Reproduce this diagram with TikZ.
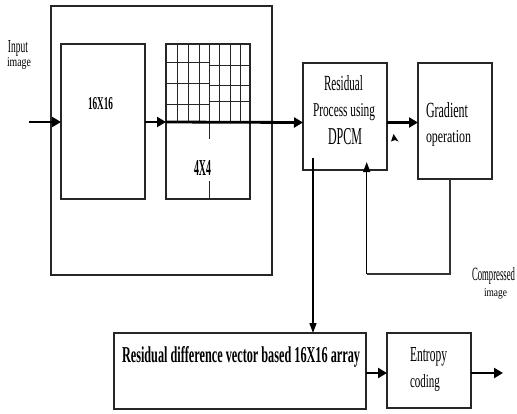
\documentclass[tikz,border=0pt]{standalone}
\usepackage{fontspec}
\setmainfont{Liberation Serif}
\usetikzlibrary{arrows.meta}
\newcommand{\fitxt}[3]{\resizebox{#1pt}{#2pt}{#3}}
\begin{document}
\begin{tikzpicture}[x=1pt,y=-1pt,
  box/.style={draw=black!85,line width=1.1pt},
  gridln/.style={draw=black!85,line width=1pt},
  lbl/.style={anchor=base west,inner sep=0pt,outer sep=0pt},
  thickarr/.style={line width=2.8pt,-{Triangle[length=9pt,width=10pt]}},
  thinarr/.style={line width=1.4pt,-{Triangle[length=10pt,width=7pt]}},
  thinln/.style={line width=1.1pt,draw=black!80}]
\useasboundingbox (0,0) rectangle (517,413);
\fill[white] (0,0) rectangle (517,413);
% outer box
\draw[box] (51,6) rectangle (272,275);
% 16x16 block
\draw[box] (61,44) rectangle (145,199);
\coordinate (b16w) at (61,122);
\coordinate (b16e) at (145,122);
% grid block
\draw[box] (166,44) rectangle (250,199);
\coordinate (gw) at (166,122);
\foreach \x in {177.3,188.3,199,209,219.3,230,240} \draw[gridln] (\x,44) -- (\x,122);
\foreach \y in {62.7,83.3,104} \draw[gridln] (166,\y) -- (209,\y);
\foreach \y in {65.7,85,101} \draw[gridln] (209,\y) -- (250,\y);
\draw[gridln] (209,122) -- (209,139);
\draw[gridln] (209,181) -- (209,199);
% residual / gradient
\draw[box] (303,63) rectangle (387,170);
\draw[box] (418,63) rectangle (492,179);
\coordinate (resw) at (303,122.5);
\coordinate (rese) at (387,122.5);
\coordinate (gradw) at (418,122.5);
% bottom boxes
\draw[box] (114,333) rectangle (366,409);
\draw[box] (387,333) rectangle (471,408);
\coordinate (rdve) at (366,373);
\coordinate (entw) at (387,373);
\coordinate (ente) at (471,373);
\coordinate (outp) at (503,373);
\coordinate (inp) at (29,122);
% arrows
\draw[thickarr] (inp) -- (b16w);
\draw[thickarr] (b16e) -- (gw);
\draw[thickarr] (gw) -- (resw);
\draw[thickarr] (rese) -- (gradw);
\draw[thickarr] (rdve) -- (entw);
\draw[thickarr] (ente) -- (outp);
% down line
\coordinate (dstart) at (313,158);
\coordinate (dend) at (313,333);
\draw[thinarr] (dstart) -- (dend);
% feedback
\coordinate (gbot) at (450,179);
\coordinate (fbl) at (366.7,274);
\coordinate (fbtip) at (366.7,162);
\draw[thinln] (gbot) |- (fbl);
\draw[thinarr] (fbl) -- (fbtip);
% stray arrowhead
\fill (391,141.5) -- (393.5,134) -- (398.5,141.5) -- (395,140) -- cycle;
% labels
\node[lbl] (in1) at (8,52) {\fitxt{20}{12}{Input}};
\node[lbl] (in2) at (7,66) {\fitxt{24}{9}{image}};
\node[lbl] (t16) at (88,109) {\fitxt{25}{12}{\bfseries 16X16}};
\node[lbl] (t4) at (194,175) {\fitxt{17}{15}{\bfseries 4X4}};
\node[lbl] (r1) at (324,90) {\fitxt{39}{15}{Residual}};
\node[lbl] (r2) at (313,116) {\fitxt{62}{13}{Process using}};
\node[lbl] (r3) at (328,144) {\fitxt{34}{16}{DPCM}};
\node[lbl] (g1) at (426,117) {\fitxt{42}{15}{Gradient}};
\node[lbl] (g2) at (426,142) {\fitxt{45}{12}{operation}};
\node[lbl] (bt) at (122,362) {\fitxt{238}{16}{\bfseries Residual difference vector based 16X16 array}};
\node[lbl] (e1) at (410,361) {\fitxt{37}{14}{Entropy}};
\node[lbl] (e2) at (410,387) {\fitxt{30}{13}{coding}};
\node[lbl] (c1) at (472,280) {\fitxt{43}{13}{Compressed}};
\node[lbl] (c2) at (484,296) {\fitxt{23}{8}{image}};
\end{tikzpicture}
\end{document}
